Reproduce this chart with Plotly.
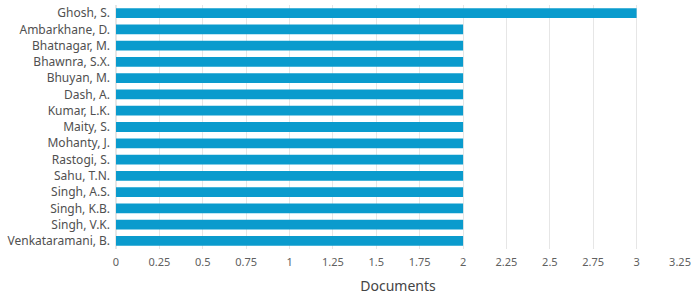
import plotly.graph_objects as go

authors = ["Ghosh, S.", "Ambarkhane, D.", "Bhatnagar, M.", "Bhawnra, S.X.", "Bhuyan, M.",
           "Dash, A.", "Kumar, L.K.", "Maity, S.", "Mohanty, J.", "Rastogi, S.",
           "Sahu, T.N.", "Singh, A.S.", "Singh, K.B.", "Singh, V.K.", "Venkataramani, B."]
documents = [3, 2, 2, 2, 2, 2, 2, 2, 2, 2, 2, 2, 2, 2, 2]
tick_vals = [0, 0.25, 0.5, 0.75, 1, 1.25, 1.5, 1.75, 2, 2.25, 2.5, 2.75, 3, 3.25]
tick_text = ["0", "0.25", "0.5", "0.75", "1", "1.25", "1.5", "1.75", "2", "2.25", "2.5", "2.75", "3", "3.25"]

fig = go.Figure(go.Bar(
    x=documents, y=authors, orientation="h",
    marker=dict(color="#0a9bcd", line=dict(width=0)),
    hoverinfo="x+y",
))
fig.update_layout(
    width=691, height=296,
    margin=dict(l=116, r=11, t=5, b=47),
    paper_bgcolor="white", plot_bgcolor="white",
    bargap=0.4,
    font=dict(family="Noto Sans, sans-serif", size=11, color="#555555"),
    showlegend=False,
)
fig.update_xaxes(
    range=[0, 3.25], tickvals=tick_vals, ticktext=tick_text,
    automargin=False,
    showgrid=True, gridcolor="#e6e6e6", gridwidth=1,
    zeroline=True, zerolinecolor="#e6e6e6",
    ticks="", ticklabelstandoff=5,
    tickfont=dict(size=11, color="#606060"),
    title=dict(text="Documents", font=dict(size=14, color="#444444"), standoff=13),
)
fig.update_yaxes(
    categoryorder="array", categoryarray=authors[::-1],
    automargin=False,
    showgrid=False, ticks="", ticklabelstandoff=5,
    tickfont=dict(size=12, color="#505050"),
)
fig.write_html("out.html")
